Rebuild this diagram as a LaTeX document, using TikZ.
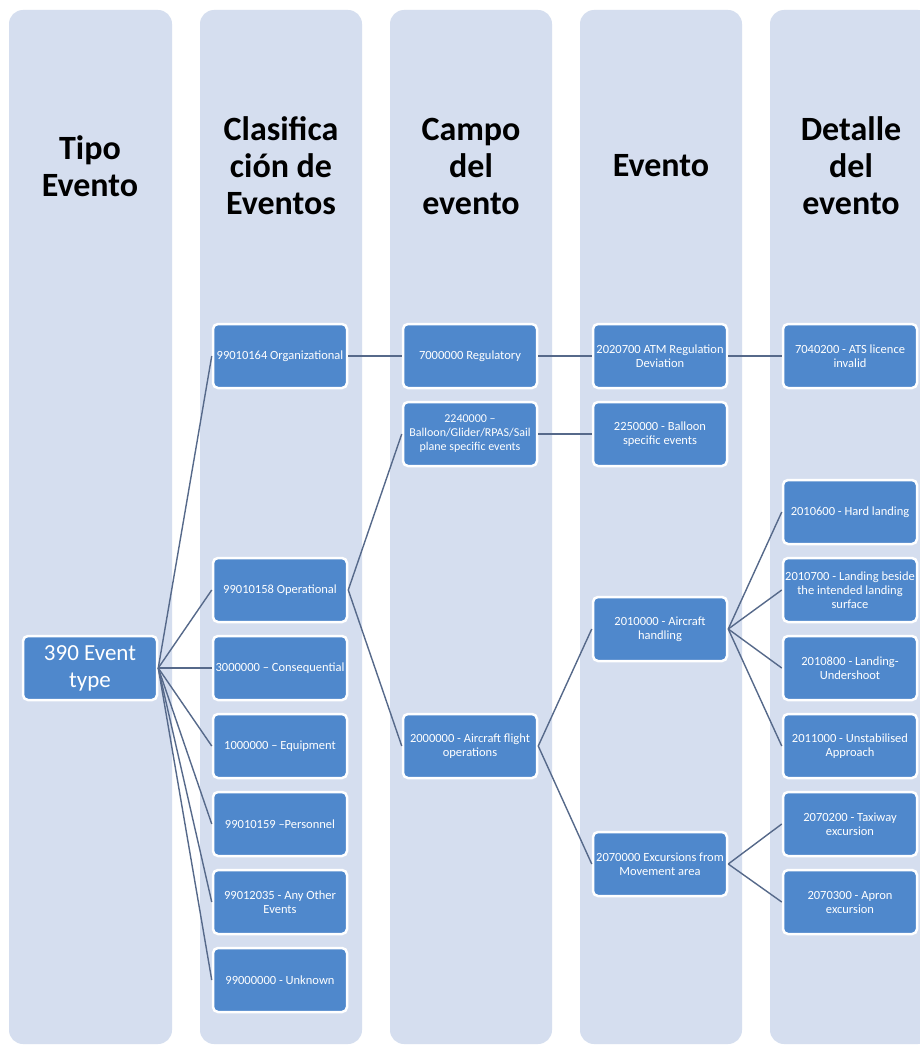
\documentclass[tikz,border=0pt]{standalone}
\usepackage{fontspec}
\setmainfont{Carlito}

\definecolor{colbg}{HTML}{D5DEEF}
\definecolor{boxblue}{HTML}{4F88CC}
\definecolor{linkgray}{HTML}{56698A}

\begin{document}
\begin{tikzpicture}[
  x=1pt, y=-1pt,
  column/.style={fill=colbg, rounded corners=14pt},
  header/.style={font=\fontsize{34}{37}\selectfont\bfseries, align=center},
  ebox/.style={draw=white, line width=2.5pt, fill=boxblue, rounded corners=5pt,
    minimum width=134pt, minimum height=64pt, inner sep=1pt, align=center,
    text=white, font=\fontsize{12.5}{14}\selectfont},
  link/.style={draw=linkgray, line width=1.4pt}
]
  \useasboundingbox (0,0) rectangle (920,1046);
  \clip (0,0) rectangle (920,1046);
  \fill[white] (0,0) rectangle (920,1046);

  % columns
  \fill[column] (9,10) rectangle (172,1044);
  \fill[column] (200,10) rectangle (362,1044);
  \fill[column] (390,10) rectangle (552,1044);
  \fill[column] (580,10) rectangle (742,1044);
  \fill[column] (770,10) rectangle (932,1044);

  % headers
  \node[header] (h1) at (90,166) {Tipo\\Evento};
  \node[header] (h2) at (281,166) {Clasifica\\ción de\\Eventos};
  \node[header] (h3) at (471,166) {Campo\\del\\evento};
  \node[header] (h4) at (661,166) {Evento};
  \node[header] (h5) at (851,166) {Detalle\\del\\evento};

  % event type
  \node[ebox, font=\fontsize{23}{27}\selectfont] (t390) at (90,668) {390 Event\\type};

  % classification
  \node[ebox] (c164) at (280,356) {99010164 Organizational};
  \node[ebox] (c158) at (280,590) {99010158 Operational};
  \node[ebox] (c3m) at (280,668) {3000000 -- Consequential};
  \node[ebox] (c1m) at (280,746) {1000000 -- Equipment};
  \node[ebox] (c159) at (280,824) {99010159 --Personnel};
  \node[ebox] (c035) at (280,902) {99012035 - Any Other\\Events};
  \node[ebox] (c000) at (280,980) {99000000 - Unknown};

  % fields
  \node[ebox] (f7m) at (470,356) {7000000 Regulatory};
  \node[ebox, font=\fontsize{12}{14}\selectfont] (f224) at (470,434) {2240000 --\\Balloon/Glider/RPAS/Sail\\plane specific events};
  \node[ebox] (f2m) at (470,746) {2000000 - Aircraft flight\\operations};

  % events
  \node[ebox] (e2027) at (660,356) {2020700 ATM Regulation\\Deviation};
  \node[ebox] (e225) at (660,434) {2250000 - Balloon\\specific events};
  \node[ebox] (e201) at (660,629) {2010000 - Aircraft\\handling};
  \node[ebox] (e207) at (660,864) {2070000 Excursions from\\Movement area};

  % details
  \node[ebox] (d7042) at (850,356) {7040200 - ATS licence\\invalid};
  \node[ebox] (d2016) at (850,512) {2010600 - Hard landing};
  \node[ebox] (d2017) at (850,590) {2010700 - Landing beside\\the intended landing\\surface};
  \node[ebox] (d2018) at (850,668) {2010800 - Landing-\\Undershoot};
  \node[ebox] (d2110) at (850,746) {2011000 - Unstabilised\\Approach};
  \node[ebox] (d2072) at (850,824) {2070200 - Taxiway\\excursion};
  \node[ebox] (d2073) at (850,902) {2070300 - Apron\\excursion};

  % type links
  \draw[link] (t390.east) edge (c164.west);
  \draw[link] (t390.east) edge (c158.west);
  \draw[link] (t390.east) edge (c3m.west);
  \draw[link] (t390.east) edge (c1m.west);
  \draw[link] (t390.east) edge (c159.west);
  \draw[link] (t390.east) edge (c035.west);
  \draw[link] (t390.east) edge (c000.west);

  % field links
  \draw[link] (c164.east) edge (f7m.west);
  \draw[link] (c158.east) edge (f224.west);
  \draw[link] (c158.east) edge (f2m.west);

  % event links
  \draw[link] (f7m.east) edge (e2027.west);
  \draw[link] (f224.east) edge (e225.west);
  \draw[link] (f2m.east) edge (e201.west);
  \draw[link] (f2m.east) edge (e207.west);

  % detail links
  \draw[link] (e2027.east) edge (d7042.west);
  \draw[link] (e201.east) edge (d2016.west);
  \draw[link] (e201.east) edge (d2017.west);
  \draw[link] (e201.east) edge (d2018.west);
  \draw[link] (e201.east) edge (d2110.west);
  \draw[link] (e207.east) edge (d2072.west);
  \draw[link] (e207.east) edge (d2073.west);

\end{tikzpicture}
\end{document}
